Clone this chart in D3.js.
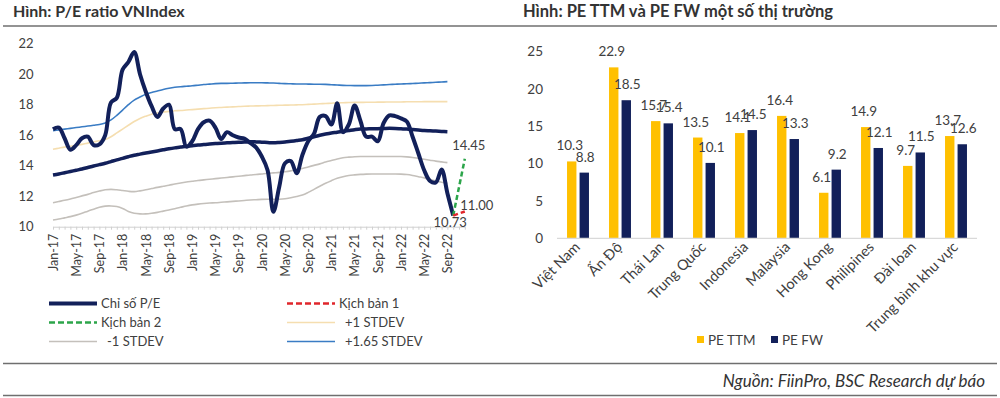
<!DOCTYPE html>
<html><head><meta charset="utf-8">
<script src="https://cdn.jsdelivr.net/npm/d3@7"></script>
<style>body{margin:0;background:#fff}svg{display:block;font-family:Lato,"Open Sans",sans-serif}</style>
</head><body><svg id="c" width="1000" height="398"></svg>
<script>
// ---------- Left chart data (monthly, Jan-17 onward) ----------
const tickLabels = ["Jan-17","May-17","Sep-17","Jan-18","May-18","Sep-18","Jan-19","May-19","Sep-19","Jan-20","May-20","Sep-20","Jan-21","May-21","Sep-21","Jan-22","May-22","Sep-22"];
const yTicksLeft = [10,12,14,16,18,20,22];
const peRatio = [16.39,16.5,15.8,15.05,15.35,15.8,15.9,15.35,15.4,16.0,18.15,18.45,20.3,20.8,21.45,20.0,18.85,17.9,17.2,17.75,18.0,16.4,16.4,15.25,15.6,16.4,16.85,16.95,16.5,15.75,16.2,16.0,15.85,15.78,15.5,15.2,14.6,13.7,10.98,12.6,14.16,14.3,13.5,14.7,15.6,16.1,17.2,17.25,16.7,18.09,16.2,16.7,17.95,16.95,15.9,15.9,15.6,16.8,17.3,17.25,17.1,16.9,15.9,14.8,13.7,13.0,12.9,13.75,12.2,10.73];
const peMean = [13.39,13.46,13.54,13.62,13.7,13.78,13.88,13.98,14.07,14.16,14.27,14.38,14.48,14.59,14.69,14.76,14.83,14.9,14.97,15.04,15.11,15.17,15.22,15.28,15.31,15.35,15.39,15.42,15.45,15.48,15.5,15.52,15.54,15.55,15.57,15.56,15.54,15.52,15.5,15.52,15.55,15.6,15.65,15.7,15.8,15.9,16.0,16.08,16.15,16.2,16.26,16.31,16.36,16.4,16.41,16.42,16.43,16.44,16.45,16.44,16.42,16.4,16.37,16.34,16.31,16.29,16.27,16.25,16.23];
const plus165Stdev = [16.3,16.35,16.4,16.45,16.5,16.55,16.6,16.65,16.7,16.8,17.0,17.3,17.65,18.0,18.3,18.5,18.68,18.8,18.9,19.0,19.08,19.14,19.18,19.21,19.24,19.28,19.32,19.35,19.38,19.4,19.4,19.41,19.42,19.43,19.44,19.44,19.44,19.43,19.42,19.4,19.38,19.37,19.36,19.36,19.35,19.34,19.34,19.33,19.31,19.29,19.27,19.26,19.25,19.25,19.25,19.26,19.28,19.3,19.32,19.34,19.36,19.37,19.39,19.41,19.43,19.45,19.47,19.49,19.51];
const plus1Stdev = [15.08,15.15,15.22,15.28,15.34,15.4,15.48,15.56,15.64,15.72,15.9,16.15,16.4,16.65,16.9,17.1,17.25,17.38,17.46,17.52,17.56,17.6,17.62,17.65,17.68,17.71,17.74,17.77,17.8,17.82,17.84,17.86,17.88,17.9,17.91,17.92,17.93,17.94,17.95,17.96,17.97,17.98,17.99,18.0,18.02,18.04,18.06,18.08,18.1,18.12,18.13,18.14,18.15,18.15,18.16,18.16,18.17,18.17,18.18,18.18,18.18,18.19,18.19,18.19,18.2,18.2,18.2,18.2,18.2];
const minus1Stdev = [11.57,11.65,11.73,11.82,11.92,12.02,12.12,12.24,12.34,12.42,12.45,12.42,12.37,12.32,12.3,12.35,12.42,12.5,12.58,12.65,12.72,12.8,12.87,12.93,12.98,13.03,13.07,13.11,13.15,13.19,13.23,13.27,13.31,13.35,13.39,13.42,13.46,13.5,13.53,13.56,13.6,13.66,13.74,13.82,13.92,14.02,14.12,14.24,14.34,14.44,14.52,14.56,14.59,14.6,14.6,14.6,14.6,14.6,14.6,14.6,14.6,14.58,14.54,14.48,14.42,14.36,14.3,14.25,14.2];
const minus165Stdev = [10.44,10.5,10.58,10.66,10.76,10.88,11.02,11.15,11.28,11.35,11.36,11.32,11.2,11.0,10.88,10.84,10.84,10.88,10.94,11.02,11.1,11.18,11.27,11.36,11.43,11.48,11.52,11.55,11.57,11.6,11.63,11.66,11.69,11.72,11.75,11.77,11.79,11.8,11.8,11.8,11.83,11.9,11.98,12.08,12.25,12.45,12.65,12.85,13.02,13.17,13.28,13.36,13.4,13.43,13.45,13.46,13.46,13.46,13.46,13.46,13.45,13.42,13.36,13.28,13.2,13.1,13.0,12.92,12.85];
const scenarioMonths = [69,71];
const scenario1 = [10.73,11.00];
const scenario2 = [10.73,14.45];

// ---------- Right chart data ----------
const markets = ["Việt Nam","Ấn Độ","Thái Lan","Trung Quốc","Indonesia","Malaysia","Hong Kong","Philipines","Đài loan","Trung bình khu vực"];
const peTTM = [10.3,22.9,15.7,13.5,14.1,16.4,6.1,14.9,9.7,13.7];
const peFW  = [8.8,18.5,15.4,10.1,14.5,13.3,9.2,12.1,11.5,12.6];
const yTicksRight = [0,5,10,15,20,25];

const NAVY = "#12205a", TXT = "#404040";
const svg = d3.select("#c");

// frame lines & titles
svg.append("line").attr("x1",3).attr("x2",997).attr("y1",26).attr("y2",26).attr("stroke","#6f6f6f").attr("stroke-width",1.5);
svg.append("line").attr("x1",3).attr("x2",997).attr("y1",363.5).attr("y2",363.5).attr("stroke","#6f6f6f").attr("stroke-width",1.5);
svg.append("line").attr("x1",3).attr("x2",997).attr("y1",395.5).attr("y2",395.5).attr("stroke","#6f6f6f").attr("stroke-width",1.5);
svg.append("text").attr("x",13).attr("y",17).attr("font-weight","bold").attr("font-size",16).attr("fill","#333").text("Hình: P/E ratio VNIndex");
svg.append("text").attr("x",523).attr("y",17).attr("font-weight","bold").attr("font-size",16.5).attr("fill","#333").text("Hình: PE TTM và PE FW một số thị trường");
svg.append("text").attr("x",985).attr("y",387).attr("text-anchor","end").attr("font-style","italic").attr("font-size",17).attr("fill","#333").text("Nguồn: FiinPro, BSC Research dự báo");

// ---------- Left chart ----------
const x = d3.scaleLinear().domain([0,71]).range([53,464.8]);
const y = d3.scaleLinear().domain([10,22]).range([226.7,43.7]);
const L = svg.append("g");

// y labels
L.selectAll(".yl").data(yTicksLeft).join("text").attr("x",33.5).attr("y",d=>y(d)).attr("dy","0.35em")
  .attr("text-anchor","end").attr("font-size",13).attr("fill",TXT).text(d=>d);

// x axis: minor monthly ticks
const ax1 = L.append("g").attr("transform",`translate(0,${y(10)})`)
  .call(d3.axisBottom(x).tickValues(d3.range(0,72)).tickSize(3).tickSizeOuter(0).tickFormat(""));
ax1.selectAll("line,path").attr("stroke","#d0d0d0");
const ax2 = L.append("g").attr("transform",`translate(0,${y(10)})`)
  .call(d3.axisBottom(x).tickValues(d3.range(0,69,4)).tickSize(0).tickFormat(d=>tickLabels[d/4]));
ax2.select("path").remove();
ax2.selectAll("text").attr("transform","rotate(-90)").attr("x",-7).attr("y",0).attr("dy","0.35em")
  .style("text-anchor","end").attr("font-size",12.5).attr("fill",TXT).attr("font-family","Lato");

const line = d3.line().x((d,i)=>x(i)).y(d=>y(d)).curve(d3.curveCatmullRom.alpha(0.5));
const bands = [
  {d:minus165Stdev,c:"#c4c0bb",w:1.6},
  {d:minus1Stdev,c:"#c4c0bb",w:1.6},
  {d:plus1Stdev,c:"#f5deb0",w:1.6},
  {d:plus165Stdev,c:"#3a7cc4",w:1.6},
  {d:peMean,c:NAVY,w:3.5},
];
bands.forEach(b=>L.append("path").attr("d",line(b.d)).attr("fill","none").attr("stroke",b.c).attr("stroke-width",b.w));
L.append("path").attr("d",line(peRatio)).attr("fill","none").attr("stroke",NAVY).attr("stroke-width",4).attr("stroke-linejoin","round");

const sLine = d3.line().x((d,i)=>x(scenarioMonths[i])).y(d=>y(d));
L.append("path").attr("d",sLine(scenario2)).attr("fill","none").attr("stroke","#2ca54a").attr("stroke-width",2.5).attr("stroke-dasharray","5,3");
L.append("path").attr("d",sLine(scenario1)).attr("fill","none").attr("stroke","#e0262b").attr("stroke-width",2.5).attr("stroke-dasharray","5,3");
L.append("text").attr("x",x(scenarioMonths[1])+4).attr("y",y(scenario2[1])-9).attr("text-anchor","middle").attr("font-size",13).attr("fill",TXT).text(scenario2[1].toFixed(2));
L.append("text").attr("x",x(scenarioMonths[1])+12).attr("y",y(scenario1[1])).attr("dy","-0.1em").attr("text-anchor","middle").attr("font-size",13).attr("fill",TXT).text(scenario1[1].toFixed(2));
L.append("text").attr("x",x(69)-3).attr("y",y(10.73)+11).attr("text-anchor","middle").attr("font-size",13).attr("fill",TXT).text(scenario1[0].toFixed(2));

// legend left
const legL = [
  {t:"Chỉ số P/E",c:NAVY,w:4,dash:null,x:49,tx:101,row:0},
  {t:"Kịch bản 2",c:"#2ca54a",w:2.5,dash:"6,3",x:49,tx:101,row:1},
  {t:"-1 STDEV",c:"#c4c0bb",w:1.6,dash:null,x:49,tx:107,row:2},
  {t:"Kịch bản 1",c:"#e0262b",w:2.5,dash:"6,3",x:287,tx:339,row:0},
  {t:"+1 STDEV",c:"#f5deb0",w:1.6,dash:null,x:287,tx:345,row:1},
  {t:"+1.65 STDEV",c:"#3a7cc4",w:1.6,dash:null,x:287,tx:345,row:2},
];
const rowY=[303.5,322.5,341.5];
legL.forEach(l=>{
  L.append("line").attr("x1",l.x).attr("x2",l.x+48).attr("y1",rowY[l.row]).attr("y2",rowY[l.row]).attr("stroke",l.c).attr("stroke-width",l.w).attr("stroke-dasharray",l.dash);
  L.append("text").attr("x",l.tx).attr("y",rowY[l.row]).attr("dy","0.35em").attr("font-size",13).attr("fill",TXT).text(l.t);
});

// ---------- Right chart ----------
const R = svg.append("g");
const x0 = d3.scaleBand().domain(markets).range([557,977]);
const x1 = d3.scaleBand().domain(["TTM","FW"]).range([0,x0.bandwidth()]).paddingInner(0.25).paddingOuter(0.8);
const yr = d3.scaleLinear().domain([0,25]).range([238.3,51.7]);
const COLS = {TTM:"#ffc000",FW:NAVY};

R.selectAll(".yr").data(yTicksRight).join("text").attr("x",543).attr("y",d=>yr(d)).attr("dy","0.35em")
  .attr("text-anchor","end").attr("font-size",13.5).attr("fill",TXT).text(d=>d);

const rows = markets.map((m,i)=>({m, vals:[{k:"TTM",v:peTTM[i]},{k:"FW",v:peFW[i]}]}));
const g = R.selectAll(".cat").data(rows).join("g").attr("transform",d=>`translate(${x0(d.m)},0)`);
g.selectAll("rect").data(d=>d.vals).join("rect").attr("x",d=>x1(d.k)).attr("width",x1.bandwidth())
  .attr("y",d=>yr(d.v)).attr("height",d=>yr(0)-yr(d.v)).attr("fill",d=>COLS[d.k]);
g.selectAll("text.v").data(d=>d.vals).join("text").attr("class","v")
  .attr("x",d=>x1(d.k)+x1.bandwidth()/2 + (d.k==="TTM"?-2:1)).attr("y",d=>yr(d.v)-11)
  .attr("text-anchor","middle").attr("font-size",13.5).attr("fill",TXT).text(d=>d.v.toFixed(1));

R.append("line").attr("x1",557).attr("x2",977).attr("y1",238.3).attr("y2",238.3).attr("stroke","#d9d9d9").attr("stroke-width",1.2);

R.selectAll(".xl").data(markets).join("text")
  .attr("transform",d=>`translate(${x0(d)+x0.bandwidth()/2+3},${248}) rotate(-45)`)
  .attr("text-anchor","end").attr("font-size",14.5).attr("fill",TXT).text(d=>d);

// legend right
const legR=[{t:"PE TTM",c:COLS.TTM,x:697},{t:"PE FW",c:COLS.FW,x:771}];
legR.forEach(l=>{
  R.append("rect").attr("x",l.x).attr("y",336).attr("width",7).attr("height",7).attr("fill",l.c);
  R.append("text").attr("x",l.x+11).attr("y",340).attr("dy","0.35em").attr("font-size",13.5).attr("fill",TXT).text(l.t);
});
</script></body></html>
